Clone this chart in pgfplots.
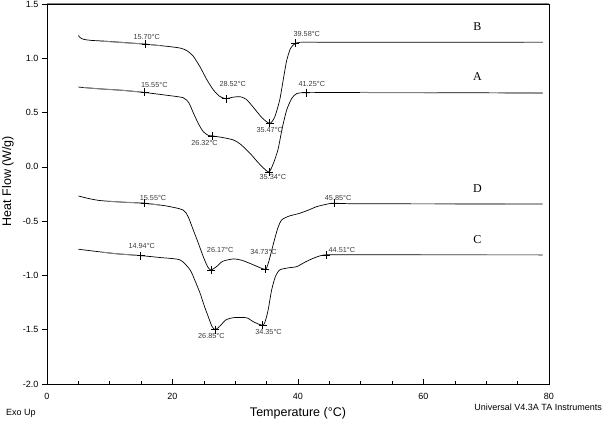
\documentclass[border=0pt]{standalone}
\usepackage{pgfplots}
\pgfplotsset{compat=1.18}
\usepackage{fontspec}
\setmainfont{Liberation Sans}
\newfontfamily\serifA{Liberation Serif}
\definecolor{lbl}{RGB}{60,60,60}
\definecolor{base}{RGB}{130,130,130}
\begin{document}
\begin{tikzpicture}
\useasboundingbox (-47pt,-43pt) rectangle (561pt,384pt);
\begin{axis}[
  anchor=south west, at={(0pt,0pt)},
  width=502pt, height=380pt, scale only axis,
  xmin=0, xmax=80, ymin=-2, ymax=1.5,
  xtick={0,20,40,60,80}, minor x tick num=3,
  ytick={-2,-1.5,-1,-0.5,0,0.5,1,1.5},
  /pgf/number format/assume math mode=true,
  yticklabel style={/pgf/number format/.cd,fixed,fixed zerofill,precision=1},
  xticklabel style={yshift=-6pt},
  ticklabel style={font=\fontsize{9}{10}\selectfont},
  xtick align=inside, ytick align=outside,
  major tick length=5pt, minor tick length=3pt,
  tick style={black, line width=0.5pt},
  xtick pos=bottom, ytick pos=left,
  axis line style={black, line width=0.7pt},
  xlabel={Temperature (\textdegree C)},
  ylabel={Heat Flow (W/g)},
  xlabel style={font=\fontsize{12.5}{14}\selectfont, at={(axis description cs:0.5,-0.076)}, anchor=center},
  ylabel style={font=\fontsize{12.5}{14}\selectfont, at={(axis description cs:-0.078,0.534)}, anchor=center},
  clip=false,
]
% B
\addplot[black, line width=0.7pt, smooth, tension=0.4] coordinates {
(5,1.21) (5.3,1.19) (5.8,1.175) (7,1.165) (10,1.155) (15.7,1.13) (19.6,1.107) (21.3,1.093) (22.3,1.07) (23.3,1.02) (24.4,0.92) (25.5,0.80) (26.5,0.71) (27.5,0.65) (28.5,0.628) (29.7,0.642) (30.8,0.646) (31.8,0.62) (33,0.54) (34.3,0.45) (35.5,0.40) (36.3,0.46) (37.1,0.62) (37.7,0.82) (38.2,0.98) (38.8,1.09) (39.6,1.138) (41,1.148) (45,1.147) (79,1.147)};
% A
\addplot[black, line width=0.7pt, smooth, tension=0.4] coordinates {
(5,0.735) (8,0.72) (12,0.705) (15.55,0.685) (19,0.66) (21.7,0.637) (22.6,0.59) (23.3,0.50) (24.1,0.40) (24.9,0.324) (25.7,0.29) (26.35,0.285) (28,0.27) (29.7,0.248) (30.8,0.21) (32.3,0.128) (33.8,0.03) (35.3,-0.047) (36,0.02) (36.8,0.156) (37.5,0.36) (38.2,0.524) (39,0.63) (39.8,0.675) (41.3,0.683) (50,0.685) (79,0.68)};
% D
\addplot[black, line width=0.7pt, smooth, tension=0.4] coordinates {
(5,-0.268) (6.5,-0.29) (8.4,-0.31) (12,-0.325) (15.5,-0.335) (19,-0.36) (21.7,-0.397) (22.5,-0.46) (23.3,-0.58) (24.1,-0.70) (24.9,-0.827) (25.6,-0.92) (26.1,-0.95) (27,-0.92) (28,-0.87) (29.7,-0.848) (31,-0.86) (32.3,-0.888) (33.6,-0.92) (34.85,-0.943) (35.4,-0.86) (36.1,-0.704) (36.8,-0.56) (37.4,-0.489) (38.5,-0.455) (40.3,-0.427) (41.8,-0.395) (43,-0.366) (44.5,-0.345) (45.7,-0.335) (50,-0.34) (79,-0.342)};
% C
\addplot[black, line width=0.7pt, smooth, tension=0.4] coordinates {
(5,-0.759) (8,-0.78) (11,-0.80) (15,-0.818) (18,-0.835) (21.2,-0.857) (22.8,-0.949) (23.6,-1.05) (24.4,-1.164) (25,-1.27) (25.7,-1.38) (26.3,-1.47) (26.8,-1.50) (27.5,-1.47) (28.5,-1.41) (29.7,-1.389) (31.8,-1.39) (33,-1.43) (34.5,-1.456) (35.2,-1.33) (35.8,-1.134) (36.4,-1.01) (37.1,-0.949) (38.5,-0.93) (39.8,-0.919) (41.2,-0.875) (42.4,-0.843) (43.5,-0.82) (44.6,-0.81) (50,-0.81) (79,-0.811)};
% grey baseline segments
\addplot[base, line width=1pt] coordinates {(8.4,1.159) (15.7,1.13) (18,1.117)};
\addplot[base, line width=1pt] coordinates {(40.3,1.146) (43,1.147)};
\addplot[base, line width=1pt] coordinates {(76,1.147) (79,1.147)};
\addplot[base, line width=1pt] coordinates {(5.8,0.731) (8,0.72) (12,0.705) (15.3,0.687)};
\addplot[base, line width=1pt] coordinates {(49.9,0.685) (62.3,0.683)};
\addplot[base, line width=1pt] coordinates {(71.9,0.681) (79,0.68)};
\addplot[base, line width=1pt] coordinates {(10,-0.318) (12,-0.325) (15.5,-0.335) (18,-0.352)};
\addplot[base, line width=1pt] coordinates {(61.8,-0.341) (73,-0.342)};
\addplot[base, line width=1pt] coordinates {(9,-0.787) (11,-0.80) (15.3,-0.819)};
\addplot[base, line width=1pt] coordinates {(59.6,-0.81) (70.1,-0.81)};
% markers
\addplot[only marks, mark=+, mark size=4pt, black, line width=0.5pt] coordinates {
(15.7,1.13) (28.52,0.628) (35.47,0.40) (39.58,1.138)
(15.55,0.685) (26.32,0.285) (35.34,-0.047) (41.25,0.683)
(15.55,-0.335) (26.17,-0.95) (34.73,-0.943) (45.85,-0.335)
(14.94,-0.818) (26.85,-1.50) (34.35,-1.456) (44.51,-0.81)};
% top frame line grey
\draw[gray, line width=1pt] (rel axis cs:0,1) -- (rel axis cs:1,1);
% annotations
\begin{scope}[every node/.style={font=\fontsize{7.3}{8}\selectfont, text=lbl, inner sep=0pt}]
\node at (axis cs:15.9,1.198) {15.70\textdegree C};
\node at (axis cs:29.6,0.76) {28.52\textdegree C};
\node at (axis cs:35.5,0.34) {35.47\textdegree C};
\node at (axis cs:41.4,1.22) {39.58\textdegree C};
\node at (axis cs:17.1,0.754) {15.55\textdegree C};
\node at (axis cs:25.1,0.223) {26.32\textdegree C};
\node at (axis cs:36.0,-0.09) {35.34\textdegree C};
\node at (axis cs:42.2,0.76) {41.25\textdegree C};
\node at (axis cs:16.9,-0.29) {15.55\textdegree C};
\node at (axis cs:27.6,-0.765) {26.17\textdegree C};
\node at (axis cs:34.5,-0.78) {34.73\textdegree C};
\node at (axis cs:46.4,-0.29) {45.85\textdegree C};
\node at (axis cs:15.1,-0.728) {14.94\textdegree C};
\node at (axis cs:26.2,-1.554) {26.85\textdegree C};
\node at (axis cs:35.3,-1.517) {34.35\textdegree C};
\node at (axis cs:47.0,-0.765) {44.51\textdegree C};
\end{scope}
\begin{scope}[every node/.style={font=\serifA\fontsize{12}{13}\selectfont}]
\node at (axis cs:68.6,1.29) {B};
\node at (axis cs:68.6,0.83) {A};
\node at (axis cs:68.6,-0.197) {D};
\node at (axis cs:68.6,-0.667) {C};
\end{scope}
\node[anchor=west, font=\fontsize{9}{10}\selectfont, inner sep=0pt] at (axis description cs:-0.0817,-0.076) {Exo Up};
\node[anchor=east, font=\fontsize{9}{10}\selectfont, inner sep=0pt] at (axis description cs:1.1056,-0.0605) {Universal V4.3A TA Instruments};
\end{axis}
\end{tikzpicture}
\end{document}
